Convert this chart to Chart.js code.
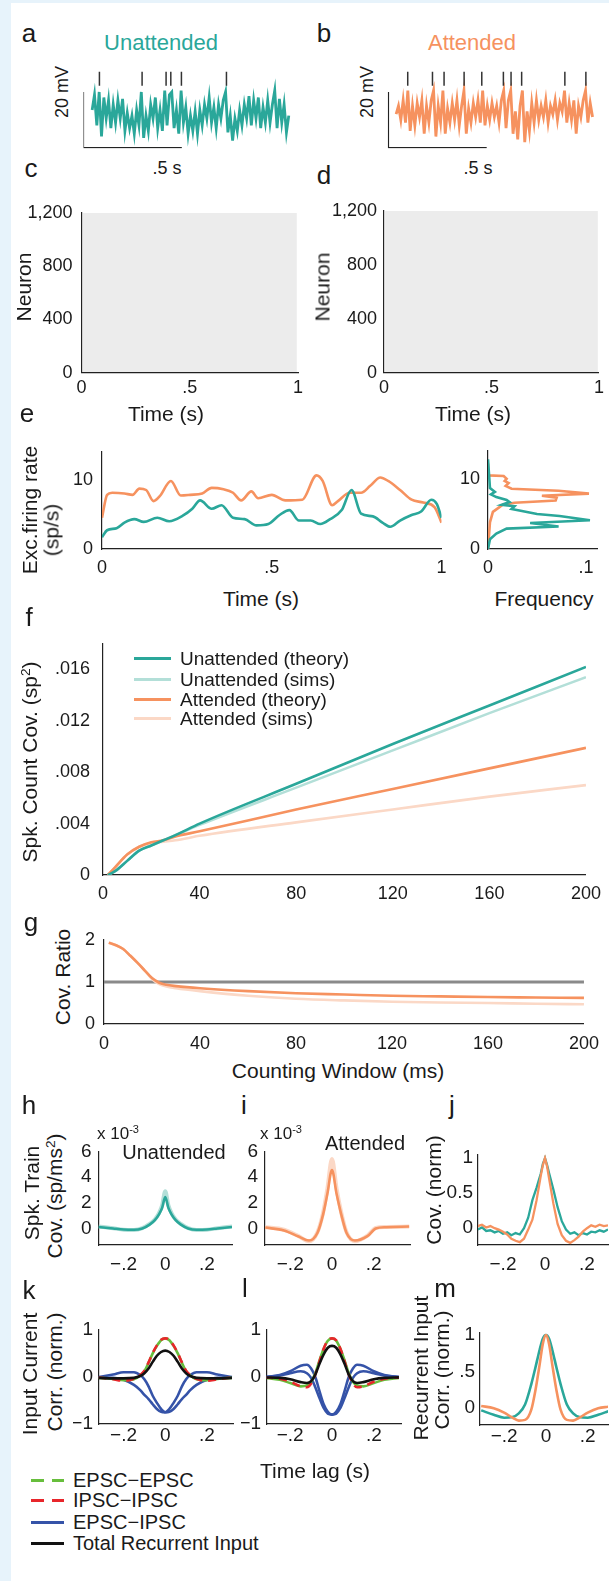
<!DOCTYPE html>
<html>
<head>
<meta charset="utf-8">
<script src="https://cdn.jsdelivr.net/npm/chart.js@4.4.1/dist/chart.umd.min.js"></script>
<style>
html, body { margin: 0; padding: 0; overflow: hidden; background: #fff; }
#fig { position: relative; width: 609px; height: 1581px; background: #fff;
       font-family: 'Liberation Sans', Arial, Helvetica, sans-serif; color: #1a1a1a; }
.edge { position: absolute; background: #e7f3fb; }
.t { position: absolute; white-space: nowrap; line-height: 1; transform: translate(-50%, -50%); }
.rot { transform: translate(-50%, -50%) rotate(-90deg); }
.lg { position: absolute; white-space: nowrap; line-height: 1; transform: translateY(-50%); }
.sw { position: absolute; height: 3px; }
canvas { position: absolute; }
sup { font-size: 65%; vertical-align: 0; position: relative; top: -0.55em; }
</style>
</head>
<body>
<div id="fig">
  <div class="edge" style="left:0;top:0;width:11px;height:1581px"></div>
  <div class="edge" style="left:0;top:0;width:609px;height:3px"></div>
</div>
<script>
const TEAL = '#2aa79a';
const TEAL_LIGHT = '#b3dfd8';
const ORANGE = '#f6925f';
const ORANGE_LIGHT = '#fbd8c6';
const BLUE = '#3553a8';
const RED = '#e8262b';
const GREEN = '#67be3c';
const INK = '#1a1a1a';

// ---- a / b : membrane potential traces (mV), evenly sampled over 1 s
const aTrace = [-61.5,-56,-67,-55,-71,-57,-64.5,-58,-68,-59.5,
  -66,-58,-64.5,-57.5,-69,-62.5,-68,-63.5,-70,-61.5,
  -67,-55,-71.5,-63.5,-69,-59.5,-64.5,-57,-68,-61.5,
  -69,-54.5,-67,-56,-55,-68,-61.5,-70,-54.5,-66,
  -60.5,-70,-63.5,-69,-62,-70,-61.5,-67,-59.5,-64.5,
  -57,-66,-60.5,-68,-59.5,-64.5,-58,-55,-69.5,-63.5,
  -72.5,-64.5,-69,-61.5,-67,-59.5,-64.5,-56.5,-67,-58,
  -64.5,-57,-68,-60.5,-66,-58,-66,-59.5,-54.5,-68,
  -57.5,-66,-59.5,-69.5,-63.5];
const bTrace = [-63,-60,-65,-58,-66,-54.5,-69,-60,-67,-59,
  -64,-58,-70,-60,-66,-58,-54.5,-71,-60,-66,
  -54.5,-70,-61,-66,-59,-65,-58,-67,-60,-54.5,
  -70,-61,-66,-59,-64,-58,-66,-54.5,-67,-60,
  -65,-59,-64,-60,-66,-58,-54.5,-68,-58,-54.5,
  -70,-62,-72,-60,-54.5,-73,-62,-69,-59,-66,
  -58,-65,-60,-64,-58,-66,-60,-63,-58,-65,
  -59,-62,-54.5,-66,-59,-65,-58,-70,-60,-64,
  -58,-54.5,-66,-59,-64];
const aSpikes = [0.037, 0.254, 0.376, 0.400, 0.454, 0.683];
const bSpikes = [0.059, 0.185, 0.244, 0.346, 0.436, 0.546, 0.585, 0.639, 0.859, 0.966];
const spikeLevel = -50.3;
// scale bars: 20 mV, 0.5 s
const barV = [-55, -75, -75];
const barAT = [-0.044, -0.044, 0.456];
const barBT = [-0.039, -0.039, 0.461];

// ---- c / d : raster extent
const rasterT = [0.005, 0.995];
const rasterTop = [1200, 1200];
const neuronTicks = [0, 400, 800, 1200];
const timeTicks = [0, 0.5, 1];

// ---- e : excitatory firing rate (sp/s)
const eTimeAtt = [0,0.015,0.03,0.066,0.09,0.11,0.13,0.152,0.17,0.203,0.232,0.26,0.295,0.323,0.358,0.386,0.41,0.44,0.46,0.5,0.54,0.59,0.632,0.65,0.678,0.695,0.73,0.763,0.79,0.82,0.843,0.878,0.912,0.946,0.98,1.0];
const eRateAtt = [4.5,7.8,8.1,8.0,7.8,8.7,8.5,6.9,7.6,9.8,7.7,7.8,8.0,8.8,8.6,8.1,7.0,8.3,7.3,7.8,7.0,7.1,10.6,9.8,6.3,6.9,8.1,8.1,9.1,10.3,9.8,8.5,7.1,6.7,6.0,3.8];
const eTimeUna = [0,0.015,0.043,0.066,0.095,0.123,0.163,0.198,0.238,0.266,0.289,0.323,0.352,0.386,0.42,0.455,0.49,0.523,0.552,0.58,0.615,0.643,0.672,0.706,0.735,0.763,0.798,0.826,0.849,0.878,0.912,0.94,0.97,0.986,1.0];
const eRateUna = [1.7,2.7,3.0,3.8,4.3,3.9,4.5,4.0,4.8,5.8,7.0,5.8,6.3,4.5,4.3,3.4,3.6,4.9,5.6,4.1,4.1,3.6,4.3,5.6,8.5,5.1,4.7,3.8,3.2,4.1,4.9,5.4,7.1,6.5,4.5];
const rateTicks = [0, 10];
// histogram of rates
const histRateAtt = [12.2,10.5,10.4,10.0,9.7,9.4,9.0,8.6,8.3,7.9,7.6,7.3,6.9,6.6,6.3,5.9,5.3,3.8,0];
const histFreqAtt = [0,0,0.016,0.019,0.017,0.021,0.018,0.024,0.072,0.103,0.055,0.070,0.069,0.027,0.015,0.011,0.005,0.002,0];
const histRateUna = [12.8,8.7,8.15,7.8,7.4,7.0,6.7,6.3,6.1,5.7,5.5,5.0,4.7,4.1,3.7,3.2,2.9,2.2,1.4,0];
const histFreqUna = [0,0.002,0.007,0.003,0.0085,0.019,0.022,0.014,0.027,0.024,0.032,0.05,0.073,0.104,0.043,0.072,0.019,0.0085,0.002,0];
const freqTicks = [0, 0.1];

// ---- f : spike count covariance vs counting window (ms)
const fWindow = [2,5,10,15,20,25,30,40,80,120,160,200];
const fUnaTheory = [0,0.0003,0.0011,0.0019,0.0023,0.0027,0.0031,0.0040,0.0071,0.0102,0.0132,0.0162];
const fUnaSims = [0,0.0003,0.0011,0.0019,0.0023,0.0027,0.0031,0.0039,0.0068,0.0097,0.0126,0.0154];
const fAttTheory = [0,0.0006,0.0016,0.0022,0.00255,0.0027,0.0030,0.0034,0.0051,0.0067,0.0083,0.0099];
const fAttSims = [0,0.0006,0.0016,0.0022,0.0025,0.0026,0.0027,0.00305,0.0041,0.0051,0.0061,0.0070];
const covTicks = [0, 0.004, 0.008, 0.012, 0.016];
const windowTicks = [0, 40, 80, 120, 160, 200];

// ---- g : covariance ratio
const gWindow = [2,5,8,11,14,17,20,23,26,30,40,60,80,100,120,140,160,180,200];
const gTheory = [1.93,1.87,1.78,1.62,1.45,1.27,1.09,0.98,0.93,0.90,0.85,0.78,0.73,0.70,0.67,0.655,0.64,0.63,0.62];
const gSims = [1.93,1.87,1.78,1.62,1.45,1.27,1.07,0.95,0.89,0.85,0.78,0.67,0.60,0.56,0.53,0.51,0.50,0.48,0.47];
const unityX = [0, 200];
const unityY = [1, 1];
const ratioTicks = [0, 1, 2];

// ---- h / i / j : spike train covariance vs lag (s)
const hLag = [-0.32,-0.25,-0.2,-0.15,-0.11,-0.075,-0.05,-0.03,-0.015,0,0.015,0.03,0.05,0.075,0.11,0.15,0.2,0.25,0.32];
const hTheory = [0.12,0.0,-0.08,-0.1,0.0,0.3,0.65,1.1,1.6,2.45,1.6,1.1,0.65,0.3,0.0,-0.1,-0.08,0.0,0.12];
const hSims = [0.15,0.02,-0.1,-0.12,0.02,0.35,0.7,1.2,1.8,2.9,1.8,1.2,0.7,0.35,0.02,-0.12,-0.1,0.02,0.15];
const iLag = [-0.32,-0.23,-0.16,-0.11,-0.07,-0.043,-0.022,0,0.022,0.045,0.07,0.11,0.17,0.21,0.26,0.37];
const iTheory = [0.07,-0.15,-0.63,-0.94,-0.35,1.06,2.7,4.55,2.7,1.06,-0.35,-0.94,-0.6,0.0,0.1,0.15];
const iSims = [0.1,-0.1,-0.6,-1.0,-0.3,1.2,3.1,5.4,3.1,1.2,-0.3,-1.0,-0.55,0.05,0.12,0.15];
const jLag = [-0.32,-0.30,-0.28,-0.26,-0.24,-0.22,-0.20,-0.18,-0.16,-0.14,-0.12,-0.10,-0.08,-0.06,-0.04,-0.02,-0.01,0,0.01,0.02,0.04,0.06,0.08,0.10,0.12,0.14,0.16,0.18,0.20,0.22,0.24,0.26,0.28,0.30];
const jUna = [-0.02,0.01,-0.04,-0.03,-0.06,-0.04,-0.08,-0.06,-0.10,-0.07,-0.09,0.0,0.15,0.40,0.58,0.78,0.92,1.0,0.9,0.78,0.55,0.3,0.1,-0.02,-0.08,-0.06,-0.10,-0.07,-0.09,-0.05,-0.06,-0.03,-0.05,-0.02];
const jAtt = [0.03,0.05,0.01,0.03,0.0,-0.02,-0.05,-0.09,-0.15,-0.18,-0.2,-0.15,-0.02,0.12,0.4,0.75,0.9,1.0,0.88,0.7,0.35,0.06,-0.1,-0.18,-0.21,-0.17,-0.12,-0.05,0.0,0.04,0.02,0.05,0.03,0.04];
const trainTicks = [0, 2, 4, 6];
const normTicks = [0, 0.5, 1];
const lagTicks = [-0.2, 0, 0.2];

// ---- k / l / m : input current correlations
const kLag = [-0.32,-0.25,-0.2,-0.15,-0.12,-0.1,-0.08,-0.06,-0.04,-0.02,0,0.02,0.04,0.06,0.08,0.1,0.12,0.15,0.2,0.25,0.32];
const kEE = [-0.02,-0.04,-0.07,-0.05,0.03,0.12,0.3,0.5,0.66,0.78,0.82,0.78,0.66,0.5,0.3,0.12,0.03,-0.05,-0.07,-0.04,-0.02];
const kII = [-0.01,-0.05,-0.08,-0.04,0.04,0.13,0.31,0.51,0.67,0.79,0.82,0.79,0.67,0.51,0.31,0.13,0.04,-0.04,-0.08,-0.05,-0.01];
const kTotal = [-0.02,-0.03,-0.03,-0.02,0.02,0.08,0.18,0.32,0.45,0.53,0.56,0.53,0.45,0.32,0.18,0.08,0.02,-0.02,-0.03,-0.03,-0.02];
const kEI1 = [0.0,0.05,0.1,0.1,0.04,-0.05,-0.2,-0.4,-0.55,-0.68,-0.75,-0.74,-0.68,-0.58,-0.47,-0.38,-0.28,-0.17,-0.06,-0.02,-0.01];
const kEI2 = [-0.01,-0.02,-0.06,-0.17,-0.28,-0.38,-0.47,-0.58,-0.68,-0.74,-0.75,-0.68,-0.55,-0.4,-0.2,-0.05,0.04,0.1,0.1,0.05,0.0];
const lEE = [-0.02,-0.06,-0.13,-0.2,-0.18,-0.1,0.08,0.35,0.6,0.77,0.82,0.77,0.6,0.35,0.08,-0.1,-0.18,-0.2,-0.13,-0.06,-0.02];
const lII = [-0.01,-0.04,-0.1,-0.2,-0.22,-0.14,0.05,0.33,0.6,0.78,0.82,0.78,0.6,0.33,0.05,-0.14,-0.22,-0.2,-0.1,-0.04,-0.01];
const lTotal = [-0.01,-0.02,-0.05,-0.11,-0.13,-0.09,0.05,0.28,0.48,0.62,0.66,0.62,0.48,0.28,0.05,-0.09,-0.13,-0.11,-0.05,-0.02,-0.01];
const lEI1 = [0.0,0.04,0.12,0.24,0.26,0.18,0.0,-0.3,-0.58,-0.74,-0.8,-0.78,-0.66,-0.45,-0.22,-0.02,0.08,0.12,0.08,0.03,0.0];
const lEI2 = [0.0,0.03,0.08,0.12,0.08,-0.02,-0.22,-0.45,-0.66,-0.78,-0.8,-0.74,-0.58,-0.3,0.0,0.18,0.26,0.24,0.12,0.04,0.0];
const mLag = [-0.31,-0.25,-0.2,-0.16,-0.13,-0.1,-0.07,-0.05,-0.03,-0.015,0,0.015,0.03,0.05,0.07,0.1,0.13,0.16,0.2,0.25,0.3];
const mUna = [-0.03,-0.09,-0.13,-0.12,-0.07,0.05,0.33,0.56,0.8,0.95,1.0,0.95,0.8,0.56,0.33,0.05,-0.07,-0.12,-0.13,-0.09,-0.04];
const mAtt = [0.03,0.0,-0.06,-0.13,-0.17,-0.16,-0.02,0.25,0.6,0.88,1.0,0.88,0.6,0.25,-0.02,-0.16,-0.17,-0.13,-0.06,0.0,0.02];
const corrTicks = [-1, 0, 1];

Chart.defaults.font.family = "'Liberation Sans', Arial, Helvetica, sans-serif";
Chart.defaults.font.size = 18;
Chart.defaults.color = INK;

const fig = document.getElementById('fig');

// tick label formatters
const dotFmt = v => {
    if (v === 0) return '0';
    const s = String(Math.abs(v)).replace(/^0\./, '.');
    return (v < 0 ? '\u2212' : '') + s;
};
const plainFmt = v => String(v);
const commaFmt = v => v.toLocaleString('en-US');

// build a series from x / y arrays
function series(xs, ys, color, width, extra) {
    return Object.assign({
        data: xs.map((x, i) => ({ x: x, y: ys[i] })),
        showLine: true,
        borderColor: color,
        backgroundColor: color,
        borderWidth: width,
        pointRadius: 0,
        tension: 0,
        fill: false
    }, extra || {});
}

function smooth(xs, ys, color, width, extra) {
    return series(xs, ys, color, width, Object.assign({ cubicInterpolationMode: 'monotone' }, extra || {}));
}

function axis(min, max, ticks, fmt, padding, fontSize) {
    return {
        type: 'linear', min: min, max: max,
        grid: { display: false, drawTicks: false },
        border: { display: true, color: '#222', width: 1.2 },
        ticks: { padding: padding, callback: fmt, autoSkip: false, maxRotation: 0, color: INK,
                 font: { size: fontSize || 18 } },
        afterBuildTicks: s => { s.ticks = ticks.map(v => ({ value: v })); }
    };
}

function hidden(min, max) {
    return { type: 'linear', min: min, max: max, display: false };
}

// box = chart area in page pixels; pad = room around it for ticks
function panel(box, pad, datasets, x, y) {
    const left = Math.floor(box.x - pad.l);
    const top = Math.floor(box.y - pad.t);
    const right = Math.ceil(box.x + box.w + pad.r);
    const bottom = Math.ceil(box.y + box.h + pad.b);
    const padL = box.x - left, padT = box.y - top;
    const padR = right - box.x - box.w, padB = bottom - box.y - box.h;
    const cv = document.createElement('canvas');
    cv.width = right - left;
    cv.height = bottom - top;
    cv.style.left = left + 'px';
    cv.style.top = top + 'px';
    cv.style.width = cv.width + 'px';
    cv.style.height = cv.height + 'px';
    fig.appendChild(cv);
    const axesShown = x.display !== false;
    if (axesShown) {
        x.afterFit = s => { s.height = padB; };
        y.afterFit = s => { s.width = padL; };
    }
    return new Chart(cv, {
        type: 'scatter',
        data: { datasets: datasets },
        options: {
            responsive: false,
            animation: false,
            devicePixelRatio: 1,
            events: [],
            layout: { padding: axesShown ? { left: 0, top: padT, right: padR, bottom: 0 }
                                         : { left: padL, top: padT, right: padR, bottom: padB } },
            plugins: { legend: { display: false }, tooltip: { enabled: false } },
            scales: { x: x, y: y }
        }
    });
}

function text(html, x, y, size, opts) {
    opts = opts || {};
    const d = document.createElement('div');
    d.className = 't' + (opts.rot ? ' rot' : '');
    d.innerHTML = html;
    d.style.left = x + 'px';
    d.style.top = y + 'px';
    d.style.fontSize = size + 'px';
    if (opts.color) d.style.color = opts.color;
    fig.appendChild(d);
}

function legendRow(label, y, color, dashed, textX, size, x0, x1) {
    if (dashed) {
        const mid = (x0 + x1) / 2;
        [[x0, mid - 4], [mid + 4, x1]].forEach(([a, b]) => {
            const s = document.createElement('div');
            s.className = 'sw';
            s.style.cssText = `left:${a}px;top:${y - 1.5}px;width:${b - a}px;background:${color}`;
            fig.appendChild(s);
        });
    } else {
        const s = document.createElement('div');
        s.className = 'sw';
        s.style.cssText = `left:${x0}px;top:${y - 1.5}px;width:${x1 - x0}px;background:${color}`;
        fig.appendChild(s);
    }
    const d = document.createElement('div');
    d.className = 'lg';
    d.innerHTML = label;
    d.style.left = textX + 'px';
    d.style.top = y + 'px';
    d.style.fontSize = size + 'px';
    fig.appendChild(d);
}

const evenTime = arr => arr.map((v, i) => i / (arr.length - 1));
const spikeMarks = ts => ({
    data: ts.map(t => ({ x: t, y: spikeLevel })),
    showLine: false, pointStyle: 'line', rotation: 90, pointRadius: 7,
    borderColor: '#333', borderWidth: 1.5
});

// ---------- a ----------
panel({ x: 79, y: 66, w: 219, h: 87 }, { l: 4, t: 4, r: 4, b: 4 }, [
    spikeMarks(aSpikes),
    series(barAT, barV, '#222', 1.2),
    series(evenTime(aTrace), aTrace, TEAL, 2.8)
], hidden(-0.044, 1.024), hidden(-75.3, -47.3));

// ---------- b ----------
panel({ x: 383, y: 66, w: 217, h: 87 }, { l: 4, t: 4, r: 4, b: 4 }, [
    spikeMarks(bSpikes),
    series(barBT, barV, '#222', 1.2),
    series(evenTime(bTrace), bTrace, ORANGE, 2.8)
], hidden(-0.044, 1.015), hidden(-75.3, -47.3));

// ---------- c / d ----------
const raster = () => series(rasterT, rasterTop, 'rgba(0,0,0,0)', 0,
    { fill: 'origin', backgroundColor: 'rgba(0,0,0,0.075)' });
panel({ x: 81.5, y: 205, w: 216.5, h: 167.7 }, { l: 60, t: 12, r: 14, b: 35 }, [raster()],
    axis(0, 1, timeTicks, dotFmt, 5), axis(0, 1200, neuronTicks, commaFmt, 9));
panel({ x: 384, y: 205, w: 215, h: 167.7 }, { l: 60, t: 12, r: 10, b: 35 }, [raster()],
    axis(0, 1, timeTicks, dotFmt, 5), axis(0, 1200, neuronTicks, commaFmt, 7));

// ---------- e ----------
panel({ x: 102, y: 442.6, w: 339.5, h: 106.4 }, { l: 40, t: 10, r: 14, b: 30 }, [
    smooth(eTimeUna, eRateUna, TEAL, 2.6),
    smooth(eTimeAtt, eRateAtt, ORANGE, 2.6)
], axis(0, 1, timeTicks, dotFmt, 8), axis(0, 14, rateTicks, plainFmt, 9));

panel({ x: 488, y: 442.6, w: 109, h: 106.4 }, { l: 30, t: 10, r: 11, b: 30 }, [
    series(histFreqUna, histRateUna, TEAL, 2.6),
    series(histFreqAtt, histRateAtt, ORANGE, 2.6)
], axis(0, 0.1112, freqTicks, dotFmt, 8), axis(0, 14, rateTicks, plainFmt, 8));

// ---------- f ----------
panel({ x: 103, y: 630, w: 487.5, h: 245 }, { l: 60, t: 10, r: 18, b: 30 }, [
    smooth(fWindow, fUnaTheory, TEAL, 2.6),
    smooth(fWindow, fAttTheory, ORANGE, 2.6),
    smooth(fWindow, fUnaSims, TEAL_LIGHT, 2.6),
    smooth(fWindow, fAttSims, ORANGE_LIGHT, 2.6)
], axis(0, 200, windowTicks, plainFmt, 8), axis(0, 0.018, covTicks, dotFmt, 13));

// ---------- g ----------
panel({ x: 104, y: 930.7, w: 488, h: 93.3 }, { l: 30, t: 10, r: 16, b: 30 }, [
    smooth(gWindow, gTheory, ORANGE, 2.6),
    smooth(gWindow, gSims, ORANGE_LIGHT, 2.6),
    series(unityX, unityY, '#8a8a8a', 3)
], axis(0, 200, windowTicks, plainFmt, 9), axis(0, 2, ratioTicks, plainFmt, 9));

// ---------- h / i / j ----------
panel({ x: 98.5, y: 1143, w: 133.5, h: 102 }, { l: 25, t: 10, r: 10, b: 30 }, [
    smooth(hLag, hTheory, TEAL, 2.6),
    smooth(hLag, hSims, TEAL_LIGHT, 4)
], axis(-0.32, 0.32, lagTicks, dotFmt, 8, 19), axis(-1.286, 6, trainTicks, plainFmt, 7, 19));

panel({ x: 265, y: 1143, w: 145, h: 102 }, { l: 25, t: 10, r: 10, b: 30 }, [
    smooth(iLag, iTheory, ORANGE, 2.6),
    smooth(iLag, iSims, ORANGE_LIGHT, 4)
], axis(-0.321, 0.374, lagTicks, dotFmt, 8, 19), axis(-1.286, 6, trainTicks, plainFmt, 7, 19));

panel({ x: 478, y: 1148, w: 130, h: 97 }, { l: 40, t: 10, r: 1, b: 30 }, [
    series(jLag, jAtt, ORANGE, 2.3),
    series(jLag, jUna, TEAL, 2.3)
], axis(-0.319, 0.3, lagTicks, dotFmt, 8, 19), axis(-0.24, 1.053, normTicks, plainFmt, 5, 19));

// ---------- k / l / m ----------
const dash = { borderDash: [8, 6] };
panel({ x: 98.5, y: 1323, w: 134.5, h: 101 }, { l: 25, t: 10, r: 10, b: 25 }, [
    smooth(kLag, kTotal, '#111', 2.6),
    smooth(kLag, kII, RED, 2.6, dash),
    smooth(kLag, kEE, GREEN, 2.6),
    smooth(kLag, kEI1, BLUE, 2.6),
    smooth(kLag, kEI2, BLUE, 2.6)
], axis(-0.32, 0.325, lagTicks, dotFmt, 0, 19), axis(-1, 1, corrTicks, dotFmt, 5.5, 19));

panel({ x: 266.6, y: 1323, w: 134.4, h: 101 }, { l: 25, t: 10, r: 10, b: 25 }, [
    smooth(kLag, lTotal, '#111', 2.6),
    smooth(kLag, lII, RED, 2.6, dash),
    smooth(kLag, lEE, GREEN, 2.6),
    smooth(kLag, lEI1, BLUE, 2.6),
    smooth(kLag, lEI2, BLUE, 2.6)
], axis(-0.313, 0.33, lagTicks, dotFmt, 0, 19), axis(-1, 1, corrTicks, dotFmt, 5.5, 19));

panel({ x: 479.5, y: 1327, w: 128.5, h: 98 }, { l: 30, t: 10, r: 1, b: 25 }, [
    smooth(mLag, mAtt, ORANGE, 2.6),
    smooth(mLag, mUna, TEAL, 2.6)
], axis(-0.318, 0.297, lagTicks, dotFmt, 0, 19), axis(-0.23, 1.03, normTicks, dotFmt, 4.5, 19));

// ---------- text ----------
[['a', 29, 33], ['b', 324, 33], ['c', 31, 168], ['d', 324, 175], ['e', 27, 413],
 ['f', 29, 617], ['g', 31, 922], ['h', 29, 1105], ['i', 244, 1105], ['j', 452, 1105],
 ['k', 29, 1290], ['l', 245, 1288], ['m', 445, 1288]].forEach(([s, x, y]) => text(s, x, y, 26));

text('Unattended', 161, 43, 22, { color: TEAL });
text('Attended', 472, 43, 22, { color: ORANGE });
text('20 mV', 62, 92, 18, { rot: true });
text('20 mV', 367, 92, 18, { rot: true });
text('.5 s', 167, 168, 18);
text('.5 s', 478, 168, 18);
text('Neuron', 23, 287, 21, { rot: true });
text('Neuron', 322, 287, 21, { rot: true });
text('Time (s)', 166, 413, 21);
text('Time (s)', 473, 413, 21);
text('Exc.firing rate', 29, 510, 21, { rot: true });
text('(sp/s)', 51, 530, 21, { rot: true });
text('Time (s)', 261, 598, 21);
text('Frequency', 544, 598, 21);
text('Spk. Count Cov. (sp<sup>2</sup>)', 29, 762, 21, { rot: true });
text('Cov. Ratio', 62, 977, 21, { rot: true });
text('Counting Window (ms)', 338, 1070, 21);
text('Spk. Train', 31, 1193, 21, { rot: true });
text('Cov. (sp/ms<sup>2</sup>)', 54, 1196, 21, { rot: true });
text('x 10<sup>-3</sup>', 118, 1133, 17);
text('x 10<sup>-3</sup>', 281, 1133, 17);
text('Unattended', 174, 1152, 20);
text('Attended', 365, 1143, 20);
text('Cov. (norm)', 433, 1190, 21, { rot: true });
text('Input Current', 29, 1374, 21, { rot: true });
text('Corr. (norm.)', 54, 1372, 21, { rot: true });
text('Recurrent Input', 420, 1368, 21, { rot: true });
text('Corr. (norm.)', 441, 1370, 21, { rot: true });
text('Time lag (s)', 315, 1470, 21);

// f legend
legendRow('Unattended (theory)', 658, TEAL, false, 180, 19, 134, 171);
legendRow('Unattended (sims)', 679, TEAL_LIGHT, false, 180, 19, 134, 171);
legendRow('Attended (theory)', 699, ORANGE, false, 180, 19, 134, 171);
legendRow('Attended (sims)', 718, ORANGE_LIGHT, false, 180, 19, 134, 171);

// bottom legend
legendRow('EPSC\u2212EPSC', 1480, GREEN, true, 73, 20, 31, 64);
legendRow('IPSC\u2212IPSC', 1500, RED, true, 73, 20, 31, 64);
legendRow('EPSC\u2212IPSC', 1522, BLUE, false, 73, 20, 31, 64);
legendRow('Total Recurrent Input', 1543, '#111', false, 73, 20, 31, 64);
</script>
</body>
</html>
